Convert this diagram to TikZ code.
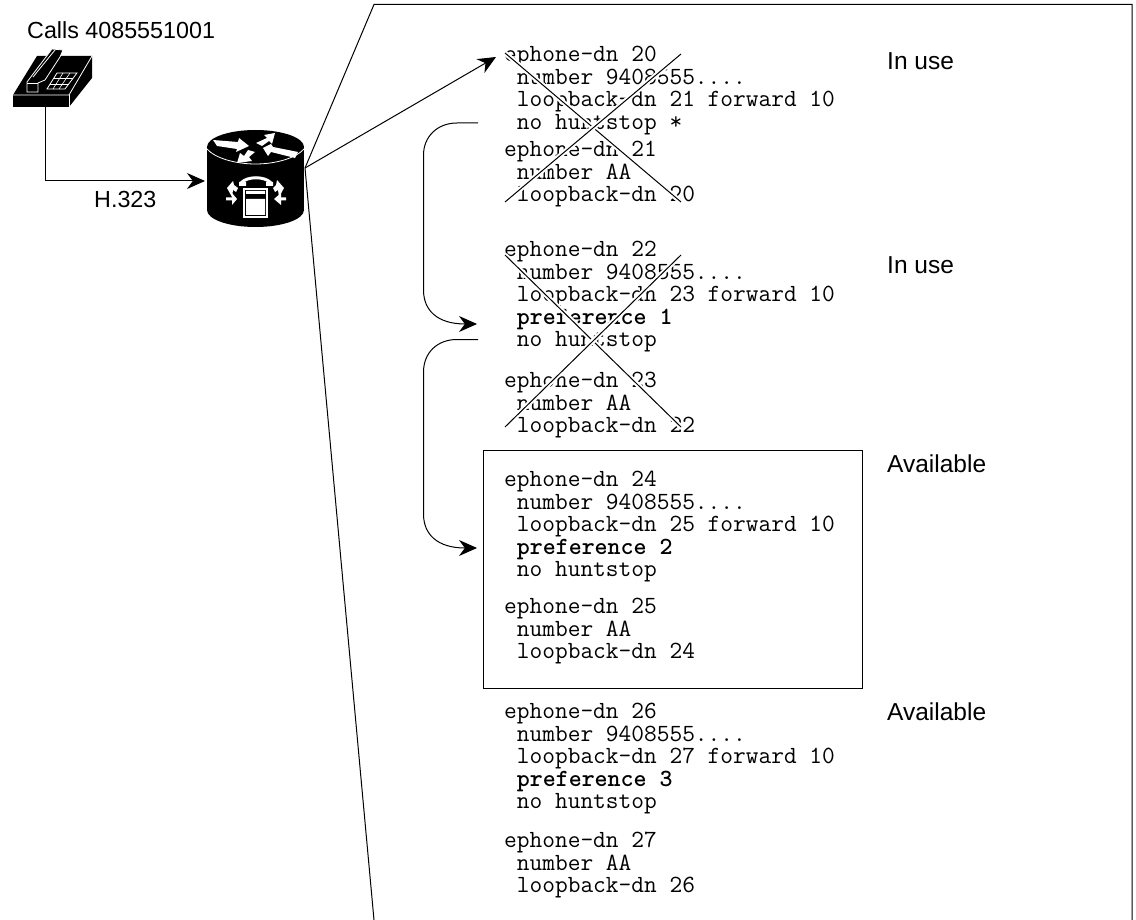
\documentclass[tikz,border=0pt]{standalone}
\usepackage{fontspec}
\usepackage{tikz}
\setmainfont{Liberation Sans}
\usetikzlibrary{arrows.meta}

\tikzset{
    dnlist/.style={anchor=north west, inner sep=0pt, align=left, font=\fontsize{24.7}{22.5}\selectfont\ttfamily},
    caption/.style={anchor=west, inner sep=0pt, font=\fontsize{23.3}{26}\selectfont},
    statelabel/.style={anchor=west, inner sep=0pt, font=\fontsize{24.5}{26}\selectfont},
    wire/.style={line width=1pt},
    cross/.style={line width=1pt, preaction={draw=white, line width=5pt}},
    glyph/.style={fill=white, draw=none},
    rim/.style={draw=white, line width=.8pt},
}

\begin{document}
\begin{tikzpicture}[x=1pt, y=-1pt, >={Stealth[length=18pt, width=16pt]}]
        \useasboundingbox (0, 0) rectangle (1136, 920);

        % phone
        \coordinate (phone) at (45, 107);
        \fill (13, 95) -- (37, 56) -- (92, 56) -- (92, 78) -- (69, 107) -- (13, 107) -- cycle;
        \draw[rim] (13, 95) -- (69, 95) -- (92, 56);
        \draw[rim] (69, 95) -- (69, 107);
        \draw[rim, fill=black] (27, 92) -- (27, 82) -- (52, 49) -- (63, 50) -- (60, 57) -- (45, 80) -- (38, 83) -- (38, 92) -- cycle;
        \draw[rim] (27, 83) -- (38, 83);
        \draw[rim] (33, 77) -- (55, 50);
        \draw[rim] (47, 89) -- (57, 73) -- (77, 73) -- (65, 89) -- cycle;
        \draw[white, line width=.6pt] (50, 84) -- (69, 84) (54, 78) -- (73, 78);
        \draw[white, line width=.6pt] (53, 89) -- (63, 73) (59, 89) -- (70, 73);

        % router
        \coordinate (router) at (205, 181);
        \coordinate (hub) at (305, 168);
        \fill (255.5, 147) ellipse[x radius=48.5, y radius=17];
        \fill (207, 147) rectangle (304, 210);
        \fill (255.5, 210) ellipse[x radius=48.5, y radius=17];
        \draw[rim] (207, 149) .. controls (215, 158) and (235, 164) .. (255.5, 164) .. controls (276, 164) and (296, 158) .. (304, 149);
        \fill[glyph] (213, 140) -- (217, 146) -- (237, 149) -- (236, 152) -- (249, 146) -- (239, 138) -- (238, 142) -- cycle;
        \fill[glyph] (298, 152) -- (295, 158) -- (271, 152) -- (268, 156) -- (263, 148) -- (271, 144) -- (273, 147) -- cycle;
        \fill[glyph] (256, 143) -- (262, 146) -- (269, 141) -- (272, 144) -- (275, 133) -- (264, 135) -- (267, 138) -- cycle;
        \fill[glyph] (255, 152) -- (248, 150) -- (244, 156) -- (240, 153) -- (237, 163) -- (252, 161) -- (249, 157) -- cycle;
        % phone glyph on the router
        \draw[white, line width=3pt] (241, 183) .. controls (247, 176) and (265, 176) .. (271, 183);
        \fill[glyph] (239, 182) rectangle (246, 186) (266, 182) rectangle (273, 186);
        \fill[glyph] (243, 188) rectangle (268, 218);
        \fill (245, 190) rectangle (266, 216);
        \fill[glyph] (246, 191) rectangle (265, 194) (246, 199) rectangle (265, 215);
        \fill[glyph] (227, 188) -- (233, 181) -- (234, 185) -- (238, 188) -- (236, 192) -- (233, 190) -- (232, 197) -- cycle;
        \fill[glyph] (284, 188) -- (277, 180) -- (276, 185) -- (273, 188) -- (275, 192) -- (278, 190) -- (279, 197) -- cycle;
        \fill[glyph] (226, 197.5) -- (232, 197.5) -- (232, 193) -- (237, 199) -- (232, 205) -- (232, 200.5) -- (226, 200.5) -- cycle;
        \fill[glyph] (286, 197.5) -- (281, 197.5) -- (281, 193) -- (274, 199) -- (281, 205) -- (281, 200.5) -- (286, 200.5) -- cycle;

        % zoom outline
        \coordinate (zoomtop) at (374, 4.5);
        \coordinate (zoombottom) at (374, 920);
        \coordinate (zoomright) at (1132, 4.5);
        \coordinate (zoomend) at (1132, 920);
        \draw[wire] (hub) -- (zoomtop) -- (zoomright) -- (zoomend);
        \draw[wire] (hub) -- (zoombottom);

        \node[caption] (callslabel) at (27, 30) {Calls 4085551001};
        \node[caption] (h323label) at (94, 199) {H.323};
        \draw[->, wire] (phone) -- (45, 181) -- (router);

        % dial peers
        \node[dnlist] (dn20) at (504, 46) {ephone-dn 20\\\ number 9408555....\\\ loopback-dn 21 forward 10\\\ no huntstop *};
        \node[dnlist] (dn21) at (504, 141) {ephone-dn 21\\\ number AA\\\ loopback-dn 20};
        \node[dnlist] (dn22) at (504, 241) {ephone-dn 22\\\ number 9408555....\\\ loopback-dn 23 forward 10\\\ \textbf{preference 1}\\\ no huntstop};
        \node[dnlist] (dn23) at (504, 372) {ephone-dn 23\\\ number AA\\\ loopback-dn 22};
        \node[dnlist] (dn24) at (504, 471) {ephone-dn 24\\\ number 9408555....\\\ loopback-dn 25 forward 10\\\ \textbf{preference 2}\\\ no huntstop};
        \node[dnlist] (dn25) at (504, 598) {ephone-dn 25\\\ number AA\\\ loopback-dn 24};
        \node[dnlist] (dn26) at (504, 703) {ephone-dn 26\\\ number 9408555....\\\ loopback-dn 27 forward 10\\\ \textbf{preference 3}\\\ no huntstop};
        \node[dnlist] (dn27) at (504, 832) {ephone-dn 27\\\ number AA\\\ loopback-dn 26};

        \node[statelabel] (state20) at (887, 61) {In use};
        \node[statelabel] (state22) at (887, 265) {In use};
        \node[statelabel] (state24) at (887, 464) {Available};
        \node[statelabel] (state26) at (887, 712) {Available};

        \draw[->, wire] (hub) -- (496, 57);

        % busy entries are crossed out
        \draw[cross] (505, 53) -- (681, 202);
        \draw[cross] (505, 202) -- (681, 54);
        \draw[cross] (505, 255) -- (681, 427);
        \draw[cross] (505, 427) -- (681, 255);

        % hunting order
        \coordinate (hunt1) at (478, 123);
        \coordinate (pref1) at (477, 324);
        \coordinate (hunt2) at (478, 339.5);
        \coordinate (pref2) at (477, 548);
        \draw[->, wire] (hunt1) -- (457, 123) .. controls (437, 123) and (423.5, 137) .. (423.5, 155) -- (423.5, 290) .. controls (423.5, 310) and (437, 324) .. (pref1);
        \draw[->, wire] (hunt2) -- (457, 339.5) .. controls (437, 339.5) and (423.5, 353) .. (423.5, 372) -- (423.5, 514) .. controls (423.5, 534) and (437, 548) .. (pref2);

        \draw[wire] (483.5, 450) rectangle (862, 688);
    \end{tikzpicture}
\end{document}
